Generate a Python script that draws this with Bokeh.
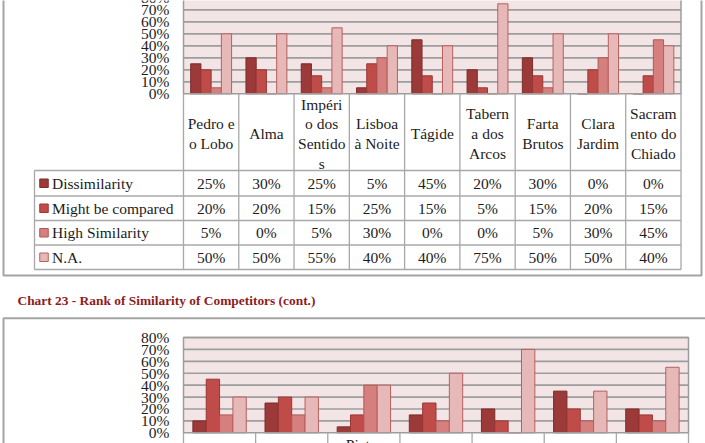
from bokeh.plotting import figure
from bokeh.models import Range1d
from bokeh.embed import file_html
from bokeh.resources import INLINE
from bokeh.core.properties import value

# ---------------- data ----------------
series = ["Dissimilarity", "Might be compared", "High Similarity", "N.A."]
colors = ["#9B3A38", "#BF4C49", "#D5807E", "#E6B8B7"]
edges = ["#7E2C2B", "#9A3735", "#B25653", "#B8605E"]

cats_top = ["Pedro e\no Lobo", "Alma", "Impéri\no dos\nSentido\ns", "Lisboa\nà Noite", "Tágide",
            "Tabern\na dos\nArcos", "Farta\nBrutos", "Clara\nJardim", "Sacram\nento do\nChiado"]
dis_top = [25, 30, 25, 5, 45, 20, 30, 0, 0]
might_top = [20, 20, 15, 25, 15, 5, 15, 20, 15]
high_top = [5, 0, 5, 30, 0, 0, 5, 30, 45]
na_top = [50, 50, 55, 40, 40, 75, 50, 50, 40]

cats_bot = ["", "", "Pietra", "", "", "", ""]
dis_bot = [10, 25, 5, 15, 20, 35, 20]
might_bot = [45, 30, 15, 25, 10, 20, 15]
high_bot = [15, 15, 40, 10, 0, 10, 10]
na_bot = [30, 30, 40, 50, 70, 35, 55]

ticks = [0, 10, 20, 30, 40, 50, 60, 70, 80]
tick_labels = [f"{t}%" for t in ticks]
title = "Chart 23 - Rank of Similarity of Competitors (cont.)"

top_vals = [dis_top, might_top, high_top, na_top]
bot_vals = [dis_bot, might_bot, high_bot, na_bot]

# ---------------- layout constants (pixels) ----------------
W, H = 705, 443
FONT = value("Liberation Serif")
FS = "15.5px"
TXT = "#1c1c1c"
GRID = "#9d9d9d"
TAB = "#a8a8a8"
PLOT_BG = "#F3E5E5"

# top chart geometry
tx0, tx1, ty0, tpp = 183.0, 680.5, 93.3, 1.2      # left, right, zero-line, px per %
# bottom chart geometry
bx0, bx1, by0, bpp = 183.0, 688.0, 432.3, 1.191

nt, nb = len(cats_top), len(cats_bot)
tcw = (tx1 - tx0) / nt
bcw = (bx1 - bx0) / nb

p = figure(width=W, height=H, output_backend="svg", toolbar_location=None,
           x_range=Range1d(0, W), y_range=Range1d(H, 0),
           min_border=0, min_border_left=0, min_border_right=0,
           min_border_top=0, min_border_bottom=0,
           x_axis_type=None, y_axis_type=None)
p.grid.visible = False
p.outline_line_color = None
p.background_fill_color = "white"
p.border_fill_color = "white"

p.extra_x_ranges = {
    "xt": Range1d(-tx0 / tcw, (W - tx0) / tcw),
    "xb": Range1d(-bx0 / bcw, (W - bx0) / bcw),
}
p.extra_y_ranges = {
    "yt": Range1d((ty0 - H) / tpp, ty0 / tpp),
    "yb": Range1d((by0 - H) / bpp, by0 / bpp),
}

# ---------------- outer chart borders ----------------
p.quad(left=[3], right=[701], top=[-6], bottom=[275], fill_color=None,
       line_color="#a4a4a4", line_width=2)
p.quad(left=[3], right=[W + 10], top=[317.7], bottom=[H + 10], fill_color=None,
       line_color="#a4a4a4", line_width=2)

# ---------------- title ----------------
p.text(x=[17], y=[299.5], text=[title], text_font=value("Liberation Serif"),
       text_font_style="bold", text_font_size="13.4px", text_color="#8E1C1C",
       text_align="left", text_baseline="middle")


def draw_chart(xr, yr, cats, vals):
    n = len(cats)
    # plot area
    p.quad(left=[0], right=[n], bottom=[0], top=[ticks[-1]], fill_color=PLOT_BG,
           line_color=None, x_range_name=xr, y_range_name=yr)
    gy = ticks[1:]
    p.segment(x0=[0] * len(gy), x1=[n] * len(gy), y0=gy, y1=gy, line_color=GRID,
              line_width=1.7, x_range_name=xr, y_range_name=yr)
    # bars
    bw = 0.185
    for j, (vs, c, e) in enumerate(zip(vals, colors, edges)):
        xs = [i + 0.5 + (j - 1.5) * bw for i in range(n)]
        p.vbar(x=xs, top=vs, bottom=0, width=bw, fill_color=c, line_color=e,
               line_width=1, x_range_name=xr, y_range_name=yr)
    # plot area frame
    p.quad(left=[0], right=[n], bottom=[0], top=[ticks[-1]], fill_color=None,
           line_color=GRID, line_width=1.5, x_range_name=xr, y_range_name=yr)


draw_chart("xt", "yt", cats_top, top_vals)
draw_chart("xb", "yb", cats_bot, bot_vals)

# y tick labels (pixel x, chart y)
for yr in ("yt", "yb"):
    p.text(x=[169] * len(ticks), y=ticks, text=tick_labels, text_font=FONT,
           text_font_size=FS, text_color=TXT, text_align="right",
           text_baseline="middle", y_range_name=yr)

# ---------------- top table ----------------
row_lines = [170.0, 195.5, 220.0, 244.5, 269.0]
p.segment(x0=[34] * len(row_lines), x1=[tx1] * len(row_lines), y0=row_lines, y1=row_lines,
          line_color=TAB, line_width=1.3)
p.segment(x0=[34], x1=[34], y0=[row_lines[0]], y1=[row_lines[-1]], line_color=TAB, line_width=1.3)
p.segment(x0=list(range(nt + 1)), x1=list(range(nt + 1)), y0=[ty0] * (nt + 1),
          y1=[row_lines[-1]] * (nt + 1), line_color=TAB, line_width=1.3, x_range_name="xt")
p.text(x=[i + 0.5 for i in range(nt)], y=[(ty0 + row_lines[0]) / 2 + 1.5] * nt, text=cats_top,
       text_font=FONT, text_font_size=FS, text_color=TXT, text_align="center",
       text_baseline="middle", text_line_height=1.16, x_range_name="xt")
for r, (name, vs, c, e) in enumerate(zip(series, top_vals, colors, edges)):
    yc = (row_lines[r] + row_lines[r + 1]) / 2
    p.text(x=[i + 0.5 for i in range(nt)], y=[yc] * nt, text=[f"{v}%" for v in vs],
           text_font=FONT, text_font_size=FS, text_color=TXT, text_align="center",
           text_baseline="middle", x_range_name="xt")
    p.rect(x=[43.5], y=[yc], width=8.5, height=8.5, fill_color=c, line_color=e, line_width=1)
    p.text(x=[51.5], y=[yc], text=[name], text_font=FONT, text_font_size=FS,
           text_color=TXT, text_align="left", text_baseline="middle")

# ---------------- bottom table (mostly below the window) ----------------
p.segment(x0=list(range(nb + 1)), x1=list(range(nb + 1)), y0=[by0] * (nb + 1),
          y1=[H + 10] * (nb + 1), line_color=TAB, line_width=1.3, x_range_name="xb")
p.text(x=[i + 0.5 for i in range(nb)], y=[435.5] * nb, text=cats_bot, text_font=FONT,
       text_font_size=FS, text_color=TXT, text_align="center", text_baseline="top",
       x_range_name="xb")

open("out.html", "w").write(file_html(p, INLINE))
